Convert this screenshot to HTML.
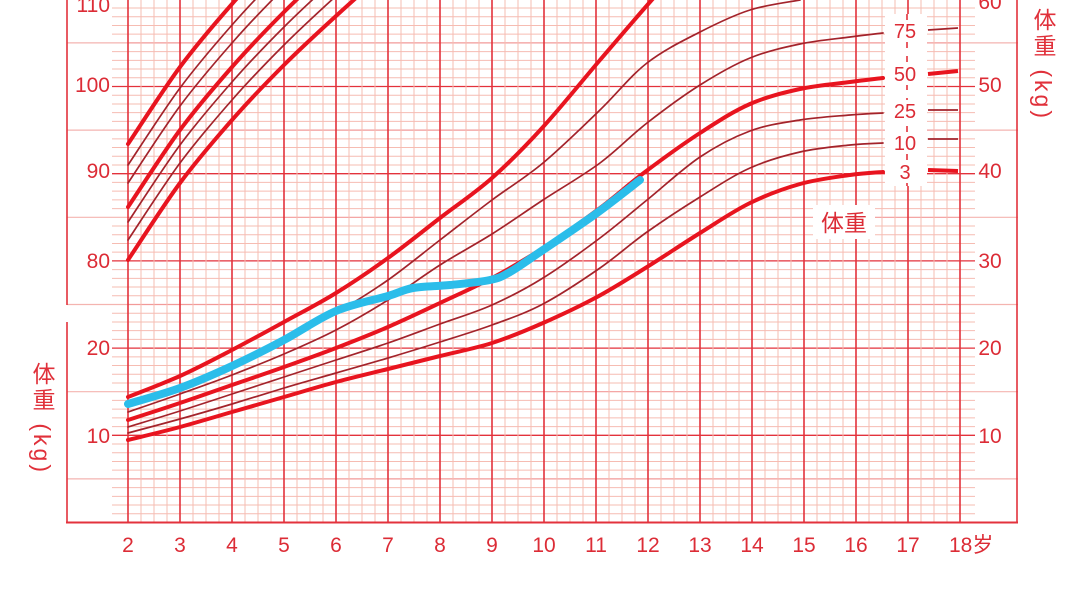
<!DOCTYPE html>
<html><head><meta charset="utf-8"><style>
html,body{margin:0;padding:0;background:#fff;width:1080px;height:600px;overflow:hidden}
svg{position:absolute;left:0;top:0}
.vl{position:absolute;writing-mode:vertical-rl;font-family:"Liberation Sans","Noto Sans CJK SC",sans-serif;font-size:23px;color:#e0303a;line-height:24px;letter-spacing:3px}
</style></head><body>
<svg id="s" width="1080" height="600" xmlns="http://www.w3.org/2000/svg"></svg>
<div class="vl" style="left:30px;top:362px">体重 (kg)</div>
<div class="vl" style="left:1031px;top:8px">体重 (kg)</div>
<script>
var o='';
var Y0=522.5,K=8.72;
function L(x1,y1,x2,y2,c,w,extra){o+='<line x1="'+x1+'" y1="'+y1+'" x2="'+x2+'" y2="'+y2+'" stroke="'+c+'" stroke-width="'+w+'" '+(extra||'')+'/>';}
for(var k=1;k<=62;k++){var y=Y0-k*K;if(y<-2)break;
 if(k%10==0){L(112,y,975,y,'#e3323c',1.3);}
 else if(k%5==0){L(67,y,128,y,'#f4b4b0',1.2);L(128,y,960,y,'#f29a98',1.2);L(960,y,1018,y,'#f4b4b0',1.2);}
 else{L(112,y,975,y,'#f6bcb2',1);}
}
for(var i=0;i<=64;i++){var x=128+i*13;
 if(i%4==0)L(x,0,x,522,'#e3323c',1.6);else L(x,0,x,522,'#f6bcb2',1);}
L(67,0,67,305,'#e3323c',1.6);L(67,322,67,522,'#e3323c',1.6);
L(1017,0,1017,522,'#e3323c',1.6);L(66,522.5,1018,522.5,'#e3323c',2);
function path(p){var d='M'+p[0][0]+','+p[0][1];
 for(var i=0;i<p.length-1;i++){var p0=p[i-1]||p[i],p1=p[i],p2=p[i+1],p3=p[i+2]||p2;
  d+=' C'+(p1[0]+(p2[0]-p0[0])/6).toFixed(1)+','+(p1[1]+(p2[1]-p0[1])/6).toFixed(1)+' '+(p2[0]-(p3[0]-p1[0])/6).toFixed(1)+','+(p2[1]-(p3[1]-p1[1])/6).toFixed(1)+' '+p2[0]+','+p2[1];}
 return d;}
function C(p,c,w){o+='<path d="'+path(p)+'" fill="none" stroke="'+c+'" stroke-width="'+w+'" stroke-linecap="round" stroke-linejoin="round"/>';}
var TH='#e8141f',TN='#a3232b';
var h3=[[128,260],[180,183],[232,120],[284,65],[336,16],[388,-30],[440,-72]];
[[0,1],[20,0],[38,0],[53,1],[77,0],[95,0],[116,1]].forEach(function(a){
 var p=h3.map(function(q){return [q[0],q[1]-a[0]];});
 C(p,a[1]?TH:TN,a[1]?4:1.7);});
var W={
p3:[[128,440],[180,427],[232,412],[284,397],[336,382],[388,369],[440,356],[492,343],[543,323],[597,297],[647,267],[700,233],[750,203],[800,184],[850,175],[883,172]],
p10:[[128,433],[180,419],[232,404],[284,388],[336,373],[388,358],[440,342],[492,325],[543,304],[600,268],[647,232],[700,197],[750,168],[800,152],[850,145],[883,143]],
p25:[[128,427],[180,411],[232,394],[284,377],[336,360],[388,343],[440,324],[492,305],[543,278],[600,238],[647,200],[700,157],[750,131],[800,120],[850,115],[883,113]],
p50:[[128,420],[180,403],[232,385],[284,367],[336,348],[388,327],[440,303],[492,278],[543,248],[600,208],[645,172],[700,133],[750,104],[800,89],[850,82],[883,78]],
p75:[[128,412],[180,394],[232,375],[284,354],[336,330],[388,300],[440,265],[492,234],[543,200],[600,163],[647,123],[700,85],[750,58],[800,44],[850,37],[883,33]],
p90:[[128,405],[180,386],[232,365],[284,341],[336,313],[388,280],[440,240],[492,200],[543,163],[600,110],[647,63],[700,32],[750,10],[800,0]],
p97:[[128,397],[180,376],[232,350],[284,322],[336,293],[388,258],[440,218],[492,178],[543,127],[600,60],[650,2],[680,-30]]};
C(W.p90,TN,1.7);C(W.p75,TN,1.7);C(W.p25,TN,1.7);C(W.p10,TN,1.7);
C(W.p97,TH,4);C(W.p50,TH,4);C(W.p3,TH,4);
L(928,30,958,28,TN,1.7);L(928,74,958,71,TH,4);L(928,110,958,110,TN,1.7);L(928,139,958,139,TN,1.7);L(928,170,958,171,TH,4);
o+='<rect x="885" y="14" width="42" height="172" fill="#fff"/>';
L(907,14,907,186,'#e3323c',1.6,'stroke-dasharray="6 8"');
var F='font-family="Liberation Sans, Noto Sans CJK SC, sans-serif" fill="#dc2c36"';
[['75',31],['50',74],['25',111],['10',143],['3',172]].forEach(function(a){
 o+='<rect x="888" y="'+(a[1]-11)+'" width="36" height="22" fill="#fff"/>';
 o+='<text x="905" y="'+(a[1]+7)+'" font-size="20" text-anchor="middle" '+F+'>'+a[0]+'</text>';});
o+='<rect x="813" y="205" width="62" height="34" fill="#fff"/>';
o+='<text x="844" y="231" font-size="23" text-anchor="middle" '+F+'>体重</text>';
C([[128,404],[180,388],[232,366],[284,340],[336,311],[388,296],[413,288],[450,285],[490,280],[510,272],[543,250],[597,213],[640,180]],'#2bbdea',8);
[['110',5],['100',85],['90',171],['80',261],['20',348],['10',436]].forEach(function(a){
 o+='<text x="110" y="'+(a[1]+7)+'" font-size="21" text-anchor="end" '+F+'>'+a[0]+'</text>';});
[['60',2],['50',85],['40',171],['30',261],['20',348],['10',436]].forEach(function(a){
 o+='<text x="990" y="'+(a[1]+7)+'" font-size="21" text-anchor="middle" '+F+'>'+a[0]+'</text>';});
for(var a=2;a<=17;a++){o+='<text x="'+(128+(a-2)*52)+'" y="552" font-size="21" text-anchor="middle" '+F+'>'+a+'</text>';}
o+='<text x="949" y="552" font-size="21" '+F+'>18岁</text>';
document.getElementById('s').innerHTML=o;
</script>
</body></html>
